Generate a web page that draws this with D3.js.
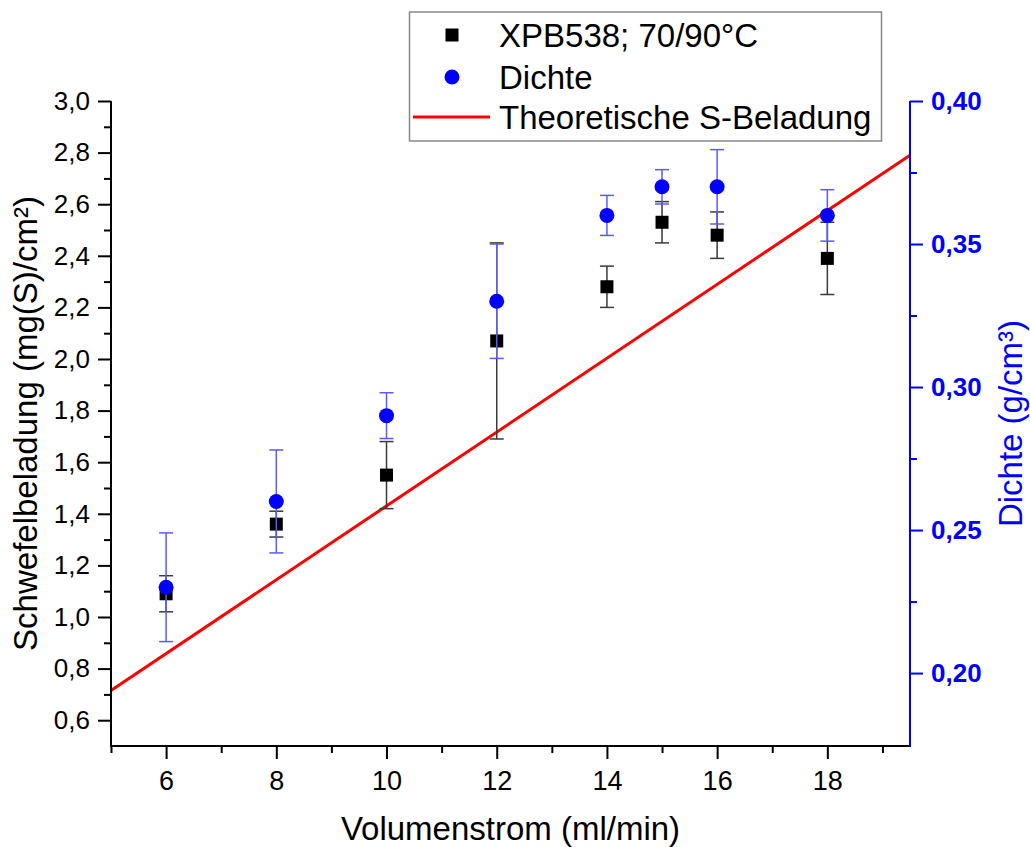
<!DOCTYPE html>
<html>
<head>
	<meta charset="utf-8" />
	<title>Schwefelbeladung</title>
	<script type="text/javascript" src="https://cdn.jsdelivr.net/npm/d3@7/dist/d3.min.js" charset="utf-8"></script>
	<style>
		body { margin: 0; background: #fff; }
		svg { display: block; font-family: "Liberation Sans", Arial, sans-serif; }
	</style>
</head>
<body>

<div id="chart">
	<svg></svg>
</div>

<script type="text/javascript">
/* data */
var flow      = [6, 8, 10, 12, 14, 15, 16, 18];
var sLoad     = [1.09, 1.36, 1.55, 2.07, 2.28, 2.53, 2.48, 2.39];
var sLoadErr  = [0.07, 0.05, 0.13, 0.38, 0.08, 0.08, 0.09, 0.14];
var dichte    = [0.23, 0.26, 0.29, 0.33, 0.36, 0.37, 0.37, 0.36];
var dichteErr = [0.019, 0.018, 0.008, 0.02, 0.007, 0.006, 0.013, 0.009];

var theoX = [5, 19.5];
var theoY = [0.715, 2.79];

var xTicks      = [6, 8, 10, 12, 14, 16, 18];
var xMinor      = [5, 7, 9, 11, 13, 15, 17, 19];
var yTicks      = [0.6, 0.8, 1.0, 1.2, 1.4, 1.6, 1.8, 2.0, 2.2, 2.4, 2.6, 2.8, 3.0];
var yMinor      = [0.7, 0.9, 1.1, 1.3, 1.5, 1.7, 1.9, 2.1, 2.3, 2.5, 2.7, 2.9];
var y2Ticks     = [0.20, 0.25, 0.30, 0.35, 0.40];
var y2Minor     = [0.225, 0.275, 0.325, 0.375];

var legendItems = ["XPB538; 70/90°C", "Dichte", "Theoretische S-Beladung"];

var BLUE = "#0000ff";

(function drawChart() {
	var width = 1030, height = 847;
	var plot = { left: 111, right: 910, top: 101, bottom: 746 };

	var svg = d3.select("#chart > svg")
		.attr("width", width)
		.attr("height", height);

	var x  = d3.scaleLinear().domain([5, 19.5]).range([plot.left, plot.right]);
	var y  = d3.scaleLinear().domain([0.5, 3.0]).range([plot.bottom, plot.top]);
	var y2 = d3.scaleLinear().domain([0.1745, 0.40]).range([plot.bottom, plot.top]);

	function comma(digits) {
		return function(d) { return d3.format("." + digits + "f")(d).replace(".", ","); };
	}

	// theoretical line (drawn first, markers sit on top)
	var theo = theoX.map(function(v, i) { return [v, theoY[i]]; });
	svg.append("path")
		.datum(theo)
		.attr("fill", "none")
		.attr("stroke", "#ff0000")
		.attr("stroke-width", 3)
		.attr("d", d3.line().x(function(d) { return x(d[0]); }).y(function(d) { return y(d[1]); }));

	// error bars helper
	function errorBars(cls, vals, errs, scale, color) {
		var g = svg.append("g").attr("class", cls)
			.attr("stroke", color)
			.attr("stroke-width", 1.5);
		flow.forEach(function(f, i) {
			var cx = x(f),
			    y0 = scale(vals[i] - errs[i]),
			    y1 = scale(vals[i] + errs[i]);
			g.append("line").attr("x1", cx).attr("x2", cx).attr("y1", y0).attr("y2", y1);
			g.append("line").attr("x1", cx - 7).attr("x2", cx + 7).attr("y1", y0).attr("y2", y0);
			g.append("line").attr("x1", cx - 7).attr("x2", cx + 7).attr("y1", y1).attr("y2", y1);
		});
	}

	errorBars("err-s", sLoad, sLoadErr, y, "#3a3a3a");

	svg.append("g").selectAll("rect")
		.data(flow)
		.join("rect")
			.attr("x", function(d) { return x(d) - 6.5; })
			.attr("y", function(d, i) { return y(sLoad[i]) - 6.5; })
			.attr("width", 13)
			.attr("height", 13)
			.attr("fill", "#000");

	errorBars("err-d", dichte, dichteErr, y2, "#5a5aff");

	svg.append("g").selectAll("circle")
		.data(flow)
		.join("circle")
			.attr("cx", function(d) { return x(d); })
			.attr("cy", function(d, i) { return y2(dichte[i]); })
			.attr("r", 7.5)
			.attr("fill", BLUE);

	// axes
	function styleAxis(g, color, size, weight) {
		g.selectAll(".domain").remove();
		g.selectAll(".tick line").attr("stroke", color).attr("stroke-width", 2);
		g.selectAll(".tick text")
			.attr("fill", color)
			.style("font-size", size + "px")
			.style("font-weight", weight)
			.style("font-family", "'Liberation Sans', Arial, sans-serif");
	}

	var gx = svg.append("g").attr("transform", "translate(0," + plot.bottom + ")");
	gx.call(d3.axisBottom(x).tickValues(xMinor).tickSize(7).tickFormat(""));
	styleAxis(gx, "#000", 27, "normal");
	var gx2 = svg.append("g").attr("transform", "translate(0," + plot.bottom + ")");
	gx2.call(d3.axisBottom(x).tickValues(xTicks).tickSize(13).tickPadding(12).tickFormat(d3.format("d")));
	styleAxis(gx2, "#000", 27, "normal");

	var gy = svg.append("g").attr("transform", "translate(" + plot.left + ",0)");
	gy.call(d3.axisLeft(y).tickValues(yMinor).tickSize(7).tickFormat(""));
	styleAxis(gy, "#000", 26, "normal");
	var gy2 = svg.append("g").attr("transform", "translate(" + plot.left + ",0)");
	gy2.call(d3.axisLeft(y).tickValues(yTicks).tickSize(13).tickPadding(8).tickFormat(comma(1)));
	styleAxis(gy2, "#000", 26, "normal");

	var gr = svg.append("g").attr("transform", "translate(" + plot.right + ",0)");
	gr.call(d3.axisRight(y2).tickValues(y2Minor).tickSize(7).tickFormat(""));
	styleAxis(gr, BLUE, 26, "bold");
	var gr2 = svg.append("g").attr("transform", "translate(" + plot.right + ",0)");
	gr2.call(d3.axisRight(y2).tickValues(y2Ticks).tickSize(13).tickPadding(8).tickFormat(comma(2)));
	styleAxis(gr2, BLUE, 26, "bold");

	// axis lines
	svg.append("line")
		.attr("x1", plot.left).attr("x2", plot.right)
		.attr("y1", plot.bottom).attr("y2", plot.bottom)
		.attr("stroke", "#000").attr("stroke-width", 2);
	svg.append("line")
		.attr("x1", plot.left).attr("x2", plot.left)
		.attr("y1", plot.top).attr("y2", plot.bottom + 1)
		.attr("stroke", "#000").attr("stroke-width", 2);
	svg.append("line")
		.attr("x1", plot.right).attr("x2", plot.right)
		.attr("y1", plot.top).attr("y2", plot.bottom + 1)
		.attr("stroke", BLUE).attr("stroke-width", 2);

	// axis titles
	svg.append("text")
		.attr("x", (plot.left + plot.right) / 2)
		.attr("y", 840)
		.attr("text-anchor", "middle")
		.style("font-size", "33px")
		.text("Volumenstrom (ml/min)");

	svg.append("text")
		.attr("transform", "translate(37," + ((plot.top + plot.bottom) / 2) + ") rotate(-90)")
		.attr("text-anchor", "middle")
		.style("font-size", "33px")
		.text("Schwefelbeladung (mg(S)/cm²)");

	svg.append("text")
		.attr("transform", "translate(1022," + ((plot.top + plot.bottom) / 2) + ") rotate(-90)")
		.attr("text-anchor", "middle")
		.attr("fill", BLUE)
		.style("font-size", "33px")
		.text("Dichte (g/cm³)");

	// legend
	var lg = svg.append("g").attr("class", "legend");
	lg.append("rect")
		.attr("x", 409.5).attr("y", 12)
		.attr("width", 472).attr("height", 129)
		.attr("fill", "#fff")
		.attr("stroke", "#888")
		.attr("stroke-width", 1.5);

	var rowY = [35, 77, 117];
	lg.append("rect")
		.attr("x", 452 - 6.5).attr("y", rowY[0] - 6.5)
		.attr("width", 13).attr("height", 13)
		.attr("fill", "#000");
	lg.append("circle")
		.attr("cx", 452).attr("cy", rowY[1]).attr("r", 7.5)
		.attr("fill", BLUE);
	lg.append("line")
		.attr("x1", 413).attr("x2", 490)
		.attr("y1", rowY[2]).attr("y2", rowY[2])
		.attr("stroke", "#ff0000").attr("stroke-width", 3);

	lg.selectAll("text.item")
		.data(legendItems)
		.join("text")
			.attr("class", "item")
			.attr("x", 499)
			.attr("y", function(d, i) { return rowY[i] + 12; })
			.style("font-size", "33px")
			.text(function(d) { return d; });
})();
</script>
</body>
</html>
